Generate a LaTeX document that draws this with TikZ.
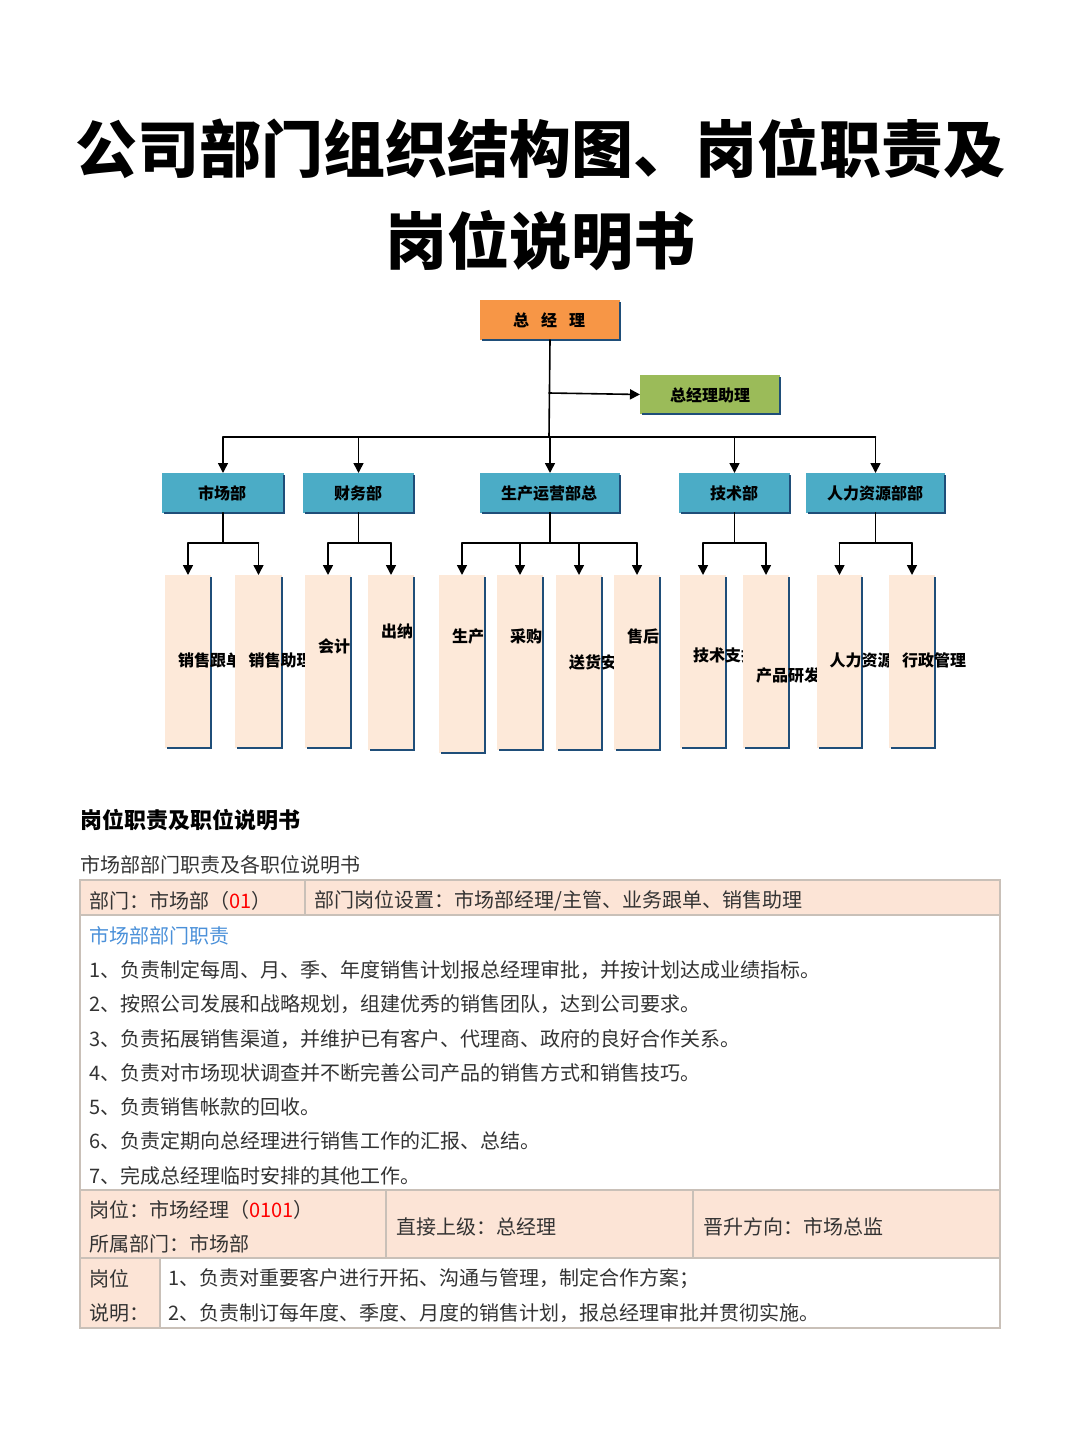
\documentclass[tikz,border=0pt]{standalone}
\usepackage{fontspec}
\setmainfont{Noto Sans CJK SC}
\newcommand{\heavy}{\bfseries}
\usetikzlibrary{arrows.meta}
\usetikzlibrary{positioning}
\definecolor{ceoorange}{HTML}{F79646}
\definecolor{asgreen}{HTML}{9BBB59}
\definecolor{deptblue}{HTML}{4BACC6}
\definecolor{leafpeach}{HTML}{FDE9D9}
\definecolor{edgenavy}{HTML}{1F4E79}
\definecolor{cellpeach}{HTML}{FCE4D6}
\definecolor{rulegray}{HTML}{C9C0B8}
\definecolor{txtgray}{HTML}{333333}
\definecolor{headblue}{HTML}{4A90D9}
\tikzset{>=Triangle}

\begin{document}
\begin{tikzpicture}[x=0.5pt,y=-0.5pt,
        link/.style={draw, thick, line cap=round},
        arrowlink/.style={link, -{Triangle[length=5pt,width=5pt]}},
        unitbox/.style={font=\bfseries\fontsize{8}{9}\selectfont, inner sep=0pt},
        leaftext/.style={font=\bfseries\fontsize{8}{13}\selectfont, align=center, text width=10pt},
        row/.style={anchor=west, font=\fontsize{10}{12}\selectfont, text=txtgray, inner sep=0pt}
    ]
    \useasboundingbox (0,0) rectangle (1080,1439);

    %=== Box macro: name, x1, y1, x2, y2, fill ===%
    \newcommand{\orgbox}[6]{
        \fill[#6] (#2,#3) rectangle (#4,#5);
        \draw[edgenavy, line width=1.2pt] (#4,#3+2) -- (#4,#5) -- (#2+2,#5);
        \coordinate (#1-n) at ({(#2+#4)/2},#3);
        \coordinate (#1-s) at ({(#2+#4)/2},#5);
        \coordinate (#1-w) at (#2,{(#3+#5)/2});
    }

    % Title
    \node[font=\heavy\fontsize{31}{46}\selectfont, align=center] (title) at (540,195)
        {公司部门组织结构图、岗位职责及\\岗位说明书};

    % Top level
    \orgbox{ceo}{480}{300}{620}{340}{ceoorange}
    \node[unitbox] (ceot) at (549,320) {总\hspace{6pt}经\hspace{6pt}理};
    \orgbox{asst}{640}{375}{780}{414}{asgreen}
    \node[unitbox] (asstt) at (710,395) {总经理助理};

    % Departments
    \orgbox{mkt}{162}{473}{284}{513}{deptblue}
    \orgbox{fin}{303}{473}{414}{513}{deptblue}
    \orgbox{ops}{480}{473}{620}{513}{deptblue}
    \orgbox{tec}{679}{473}{790}{513}{deptblue}
    \orgbox{hr}{806}{473}{945}{513}{deptblue}
    \node[unitbox] (mktt) at (222,493) {市场部};
    \node[unitbox] (fint) at (358,493) {财务部};
    \node[unitbox] (opst) at (549,493) {生产运营部总};
    \node[unitbox] (tect) at (734,493) {技术部};
    \node[unitbox] (hrt) at (875,493) {人力资源部部};

    \coordinate (hub) at (549,393);
    \coordinate (bus) at (549,437);
    \draw[link] (ceo-s) -- (bus);
    \draw[arrowlink] (hub) -- (asst-w);
    \foreach \d in {mkt,fin,ops,tec,hr}
        \draw[arrowlink] (bus -| \d-n) -- (\d-n);
    \draw[link] (bus -| mkt-n) -- (bus -| hr-n);

    % Leaves
    \foreach \nm/\xa/\xb/\yb/\up/\lbl/\ty in {
        sg/165/211/748/mkt/销售跟单/660, sz/235/282/748/mkt/销售助理/660,
        kj/305/351/748/fin/会计/646, cn/368/414/750/fin/出纳/631,
        sc/439/485/753/ops/生产/636, cg/497/543/750/ops/采购/636,
        sh/556/602/750/ops/送货安装/662, shh/614/660/750/ops/售后/636,
        js/680/726/748/tec/技术支持/655, cp/743/789/748/tec/产品研发/675,
        rl/817/862/748/hr/人力资源管理/660, xz/889/935/748/hr/行政管理/660} {
        \orgbox{\nm}{\xa}{575}{\xb}{\yb}{leafpeach}
        \node[leaftext] (\nm t) at ({(\xa+\xb)/2},\ty) {\lbl};
        \draw[link] (\up-s) -- (\up-s |- 0,543) -| (\nm-n |- 0,543);
        \draw[arrowlink] (\nm-n |- 0,543) -- (\nm-n);
    }

    % Section headings
    \node[anchor=west, inner sep=0pt, font=\heavy\fontsize{11}{12}\selectfont] (sec) at (80,820) {岗位职责及职位说明书};
    \node[row] (sub) at (80,865) {市场部部门职责及各职位说明书};

    % Table
    \fill[cellpeach] (80,880) rectangle (1000,915);
    \fill[cellpeach] (80,1190) rectangle (1000,1258);
    \fill[cellpeach] (80,1258) rectangle (160,1328);
    \begin{scope}[draw=rulegray, line width=0.6pt]
        \draw (80,880) rectangle (1000,1328);
        \draw (80,915) -- (1000,915);
        \draw (305,880) -- (305,915);
        \draw (80,1190) -- (1000,1190);
        \draw (80,1258) -- (1000,1258);
        \draw (386,1190) -- (386,1258);
        \draw (693,1190) -- (693,1258);
        \draw (160,1258) -- (160,1328);
    \end{scope}

    \node[row] (dept) at (89,901) {部门：市场部（\textcolor{red}{01}）};
    \node[row] (posts) at (314,901) {部门岗位设置：市场部经理/主管、业务跟单、销售助理};
    \node[row, text=headblue] (duty) at (89,936) {市场部部门职责};
    \foreach \i/\txt in {
        1/{1、负责制定每周、月、季、年度销售计划报总经理审批，并按计划达成业绩指标。},
        2/{2、按照公司发展和战略规划，组建优秀的销售团队，达到公司要求。},
        3/{3、负责拓展销售渠道，并维护已有客户、代理商、政府的良好合作关系。},
        4/{4、负责对市场现状调查并不断完善公司产品的销售方式和销售技巧。},
        5/{5、负责销售帐款的回收。},
        6/{6、负责定期向总经理进行销售工作的汇报、总结。},
        7/{7、完成总经理临时安排的其他工作。}}
        \node[row] (duty\i) at (89,{936+34.2*\i}) {\txt};

    \node[row] (post) at (89,1210) {岗位：市场经理（\textcolor{red}{0101}）};
    \node[row] (belong) at (89,1244) {所属部门：市场部};
    \node[row] (boss) at (396,1227) {直接上级：总经理};
    \node[row] (promo) at (703,1227) {晋升方向：市场总监};
    \node[row] (lab1) at (89,1279) {岗位};
    \node[row] (lab2) at (89,1313) {说明：};
    \node[row] (desc1) at (168,1279) {1、负责对重要客户进行开拓、沟通与管理，制定合作方案；};
    \node[row] (desc2) at (168,1313) {2、负责制订每年度、季度、月度的销售计划，报总经理审批并贯彻实施。};
\end{tikzpicture}
\end{document}
